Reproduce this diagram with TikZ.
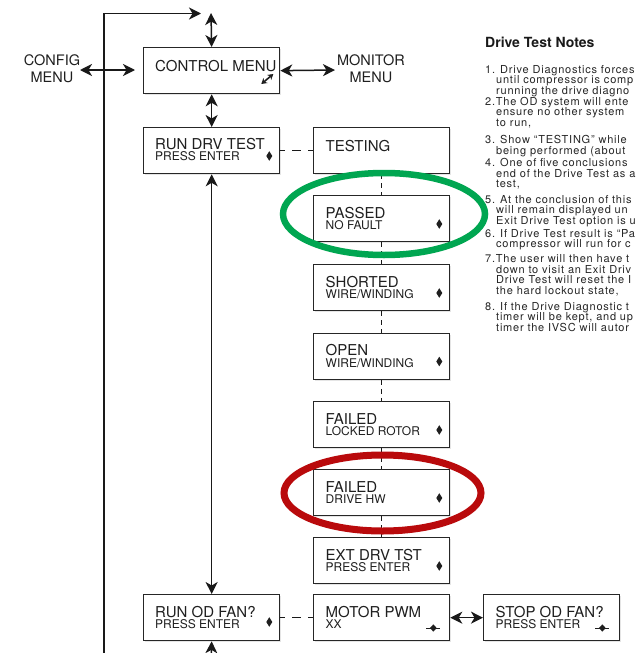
\documentclass[tikz,border=0pt]{standalone}
\usepackage{fontspec}
\setmainfont{TeX Gyre Heros}
\newfontfamily\notefont[LetterSpace=7.0]{TeX Gyre Heros}
\usetikzlibrary{arrows.meta,shadows}
\definecolor{ringgreen}{RGB}{0,166,81}
\definecolor{ringred}{RGB}{185,10,12}
\tikzset{
  dmd/.pic={\fill[black!88] (0,-4.8) -- (3,0) -- (0,4.8) -- (-3,0) -- cycle;},
  wdmd/.pic={\fill[black!88] (0,-3.6) -- (3.4,0) -- (0,3.6) -- (-3.4,0) -- cycle;
             \draw[black!88, line width=1pt] (-7,0) -- (7,0);},
  cmicon/.pic={\draw[black!88, line width=1.6pt,
      {Stealth[length=5.5pt,width=6.5pt]}-{Stealth[length=5.5pt,width=6.5pt]}] (-6,5) -- (6,-5);},
}
\begin{document}
\begin{tikzpicture}[x=1pt,y=-1pt,
  dbox/.style={draw=black!85, line width=1.3pt, fill=white, minimum width=136pt,
    minimum height=46pt, anchor=north west, inner sep=0pt,
    drop shadow={opacity=0.2, shadow xshift=1.2pt, shadow yshift=-1.5pt}},
  la/.style={anchor=base west, inner sep=0pt, text height=10.8pt, text depth=0pt,
    font=\fontsize{15}{15}\selectfont, text=black!88},
  lb/.style={anchor=base west, inner sep=0pt, text height=8.7pt, text depth=0pt,
    font=\fontsize{12}{12}\selectfont, text=black!88},
  menu/.style={align=center, inner sep=0pt, font=\fontsize{14.5}{17}\selectfont, text=black!88},
  conn/.style={line width=1.5pt, draw=black!90},
  arr/.style={conn, -{Stealth[length=12pt,width=12pt,inset=3.5pt]}},
  darr/.style={conn, {Stealth[length=12pt,width=12pt,inset=3.5pt]}-{Stealth[length=12pt,width=12pt,inset=3.5pt]}},
  vdsh/.style={conn, line width=1.2pt, dash pattern=on 5pt off 4pt},
  hdsh/.style={conn, dash pattern=on 5pt off 7pt on 9pt off 7pt on 9pt},
  note/.style={anchor=base west, inner sep=0pt, text height=8pt, text depth=0pt,
    font=\notefont\fontsize{11}{11}\selectfont, text=black!85},
  hdr/.style={anchor=base west, inner sep=0pt, font=\bfseries\fontsize{14}{14}\selectfont, text=black!90},
  ring/.style={line width=6.5pt},
]
\useasboundingbox (0,0) rectangle (635,653);
\clip (0,0) rectangle (635,653);
\fill[white] (0,0) rectangle (635,653);

% ---------- boxes ----------
\node[dbox] (cm) at (143,47) {};
\node[la] (cm-a) at ([xshift=12pt,yshift=-24pt]cm.north west) {CONTROL MENU};
\pic at ([xshift=-13pt,yshift=-32pt]cm.north east) {cmicon};

\node[dbox] (rdt) at (143,127) {};
\node[la] (rdt-a) at ([xshift=12pt,yshift=-22pt]rdt.north west) {RUN DRV TEST};
\node[lb] (rdt-b) at ([xshift=12pt,yshift=-33.5pt]rdt.north west) {PRESS ENTER};
\pic at ([xshift=-11pt,yshift=-29pt]rdt.north east) {dmd};

\node[dbox] (tst) at (313,127) {};
\node[la] (tst-a) at ([xshift=12.5pt,yshift=-24pt]tst.north west) {TESTING};

\node[dbox] (pas) at (313,195) {};
\node[la] (pas-a) at ([xshift=12.5pt,yshift=-23pt]pas.north west) {PASSED};
\node[lb] (pas-b) at ([xshift=12.5pt,yshift=-34.5pt]pas.north west) {NO FAULT};
\pic at ([xshift=-11pt,yshift=-29pt]pas.north east) {dmd};

\node[dbox] (sho) at (313,264) {};
\node[la] (sho-a) at ([xshift=12.5pt,yshift=-23pt]sho.north west) {SHORTED};
\node[lb] (sho-b) at ([xshift=12.5pt,yshift=-34.5pt]sho.north west) {WIRE/WINDING};
\pic at ([xshift=-11pt,yshift=-29pt]sho.north east) {dmd};

\node[dbox] (opn) at (313,332.5) {};
\node[la] (opn-a) at ([xshift=12.5pt,yshift=-23pt]opn.north west) {OPEN};
\node[lb] (opn-b) at ([xshift=12.5pt,yshift=-34.5pt]opn.north west) {WIRE/WINDING};
\pic at ([xshift=-11pt,yshift=-29pt]opn.north east) {dmd};

\node[dbox] (flr) at (313,401) {};
\node[la] (flr-a) at ([xshift=12.5pt,yshift=-23pt]flr.north west) {FAILED};
\node[lb] (flr-b) at ([xshift=12.5pt,yshift=-34.5pt]flr.north west) {LOCKED ROTOR};
\pic at ([xshift=-11pt,yshift=-29pt]flr.north east) {dmd};

\node[dbox] (fdh) at (313,469) {};
\node[la] (fdh-a) at ([xshift=12.5pt,yshift=-23pt]fdh.north west) {FAILED};
\node[lb] (fdh-b) at ([xshift=12.5pt,yshift=-34.5pt]fdh.north west) {DRIVE HW};
\pic at ([xshift=-11pt,yshift=-29pt]fdh.north east) {dmd};

\node[dbox] (ext) at (313,537) {};
\node[la] (ext-a) at ([xshift=12.5pt,yshift=-23pt]ext.north west) {EXT DRV TST};
\node[lb] (ext-b) at ([xshift=12.5pt,yshift=-34.5pt]ext.north west) {PRESS ENTER};
\pic at ([xshift=-11pt,yshift=-29pt]ext.north east) {dmd};

\node[dbox] (rof) at (143,594) {};
\node[la] (rof-a) at ([xshift=12pt,yshift=-23pt]rof.north west) {RUN OD FAN?};
\node[lb] (rof-b) at ([xshift=12pt,yshift=-34.5pt]rof.north west) {PRESS ENTER};
\pic at ([xshift=-11pt,yshift=-28pt]rof.north east) {dmd};

\node[dbox] (mpw) at (313,594) {};
\node[la] (mpw-a) at ([xshift=12.5pt,yshift=-23pt]mpw.north west) {MOTOR PWM};
\node[lb] (mpw-b) at ([xshift=12.5pt,yshift=-34.5pt]mpw.north west) {XX};
\pic at ([xshift=-17pt,yshift=-34pt]mpw.north east) {wdmd};

\node[dbox] (sof) at (483,594) {};
\node[la] (sof-a) at ([xshift=12.5pt,yshift=-23pt]sof.north west) {STOP OD FAN?};
\node[lb] (sof-b) at ([xshift=12.5pt,yshift=-34.5pt]sof.north west) {PRESS ENTER};
\pic at ([xshift=-18pt,yshift=-34pt]sof.north east) {wdmd};

% ---------- side menus ----------
\node[menu] (cfg) at (52,69) {CONFIG\\MENU};
\node[menu] (mon) at (371,69) {MONITOR\\MENU};

% ---------- connectors ----------
\coordinate (vb) at (104,670);
\coordinate (ta) at (201,13.5);
\coordinate (tc) at (211,13);
\coordinate (cfgR) at (80,70);
\coordinate (cmL) at (135,70);
\coordinate (monL) at (335,70);
\coordinate (bt) at (211,670);

\draw[arr] (vb) |- (ta);
\draw[darr] (tc) -- (cm.north);
\draw[darr] (cfgR) -- (cmL);
\draw[darr] (cm.east) -- (monL);
\draw[darr] (cm.south) -- (rdt.north);
\draw[darr] (rdt.south) -- (rof.north);
\draw[arr] (bt) -- (rof.south);
\draw[hdsh] (rdt.east) -- (tst.west);
\draw[hdsh] (rof.east) -- (mpw.west);
\draw[darr] (mpw.east) -- (sof.west);
\draw[vdsh] (tst.south) -- (pas.north);
\draw[vdsh] (pas.south) -- (sho.north);
\draw[vdsh] (sho.south) -- (opn.north);
\draw[vdsh] (opn.south) -- (flr.north);
\draw[vdsh] (flr.south) -- (fdh.north);
\draw[vdsh] (fdh.south) -- (ext.north);

% ---------- notes ----------
\node[hdr] (nh) at (485,47) {Drive Test Notes};
\foreach \xx/\yy/\tt [count=\i] in {
  485/73/{1. Drive Diagnostics forces},
  496/83.5/{until compressor is comp},
  496/94/{running the drive diagno},
  485/105/{2.The OD system will ente},
  496/115.5/{ensure no other system},
  496/126/{to run,},
  485/143/{3. Show “TESTING” while},
  496/154.5/{being performed (about},
  485/166.5/{4. One of five conclusions},
  496/177/{end of the Drive Test as a},
  496/187.5/{test,},
  485/203/{5. At the conclusion of this},
  496/213.5/{will remain displayed un},
  496/224.5/{Exit Drive Test option is u},
  485/237/{6. If Drive Test result is “Pa},
  496/247.5/{compressor will run for c},
  485/262/{7.The user will then have t},
  496/273/{down to visit an Exit Driv},
  496/283.5/{Drive Test will reset the I},
  496/294/{the hard lockout state,},
  485/310/{8. If the Drive Diagnostic t},
  496/320.5/{timer will be kept, and up},
  496/331/{timer the IVSC will autor}}
  { \node[note] (note\i) at (\xx,\yy) {\tt}; }

% ---------- highlight rings ----------
\draw[ring, ringgreen] (384,214) ellipse [x radius=101, y radius=41];
\draw[ring, ringred, line width=7pt] (382.5,493) ellipse [x radius=98.5, y radius=38];
\end{tikzpicture}
\end{document}
